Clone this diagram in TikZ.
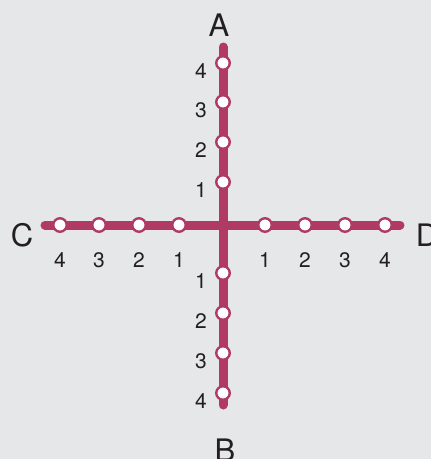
\documentclass[tikz,border=0pt]{standalone}
\usepackage{fontspec}
\setmainfont{TeX Gyre Heros}
\usetikzlibrary{positioning}
\definecolor{track}{RGB}{176,58,100}
\definecolor{paper}{RGB}{230,231,233}
\definecolor{ink}{RGB}{35,31,32}

\tikzset{
  station/.style={circle,draw=track,fill=white,line width=2.4pt,inner sep=0pt,minimum size=13.5pt},
  num/.style={font=\fontsize{21}{21}\selectfont,text=ink,inner sep=0pt},
  pole/.style={font=\fontsize{31}{31}\selectfont,text=ink,inner sep=0pt},
  axis/.style={track,line width=9pt,line cap=round}
}

\begin{document}
\begin{tikzpicture}[x=1pt,y=-1pt]
        \fill[paper] (0,0) rectangle (431,459);
        \useasboundingbox (0,0) rectangle (431,459);
        \coordinate (top) at (223,47);
        \coordinate (bot) at (223,405);
        \coordinate (lft) at (45,225);
        \coordinate (rgt) at (400,225);
        \draw[axis] (top) -- (bot);
        \draw[axis] (lft) -- (rgt);
        \foreach \i/\y in {4/63,3/102,2/142,1/182} {
          \node[station] (n\i) at (223,\y) {};
          \node[num,left=8pt of n\i,yshift=-8pt] {\i};
        }
        \foreach \i/\y in {1/273,2/313,3/353,4/393} {
          \node[station] (s\i) at (223,\y) {};
          \node[num,left=8pt of s\i,yshift=-8pt] {\i};
        }
        \foreach \i/\x in {4/60,3/99,2/139,1/179} {
          \node[station] (w\i) at (\x,225) {};
          \node[num,below=19pt of w\i] {\i};
        }
        \foreach \i/\x in {1/265,2/305,3/345,4/385} {
          \node[station] (e\i) at (\x,225) {};
          \node[num,below=19pt of e\i] {\i};
        }
        \node[pole] (A) at (219,25) {A};
        \node[pole] (B) at (225,450) {B};
        \node[pole] (C) at (22,235) {C};
        \node[pole] (D) at (427,235) {D};
      \end{tikzpicture}
\end{document}
